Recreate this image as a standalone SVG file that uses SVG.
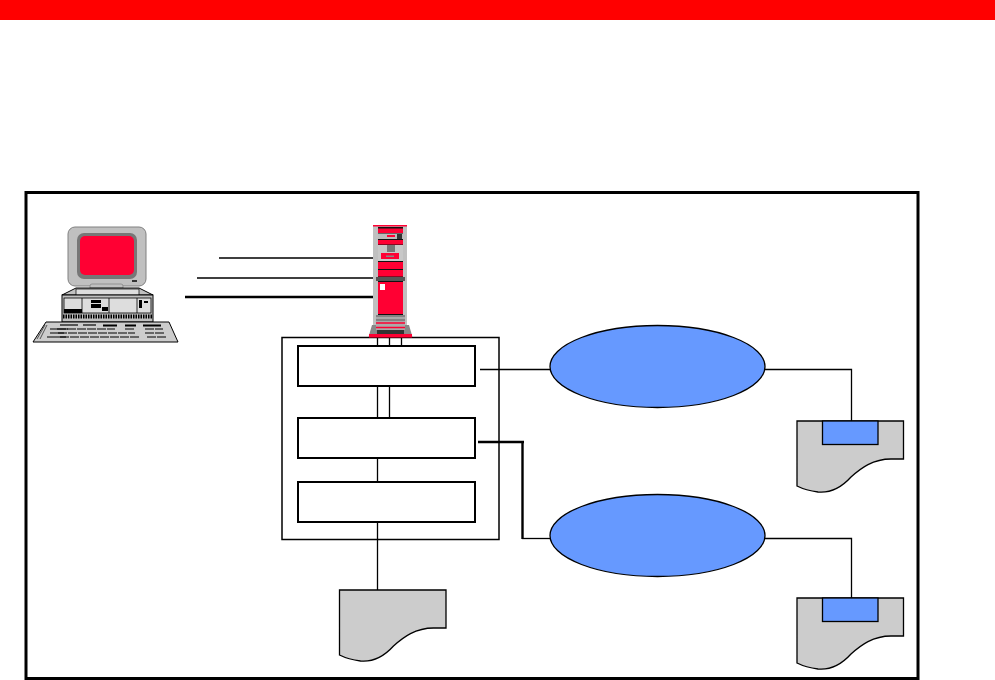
<svg xmlns="http://www.w3.org/2000/svg" width="995" height="680" viewBox="0 0 995 680">
<style>
.c{fill:none;stroke:#000;stroke-width:1.3}
.t{fill:none;stroke:#000;stroke-width:2.4}
.box{fill:#fff;stroke:#000;stroke-width:2}
.doc{fill:#ccc;stroke:#000;stroke-width:1.3}
.blue{fill:#6699ff;stroke:#000;stroke-width:1.3}
.k{fill:#000}
.r{fill:#ff0033}
.g{fill:#c0c0c0}
</style>
<defs>
<path id="d" d="M0,0H106.500V38H94C76,38 64,47 54,56C44,67 32,72 21,71C13,70 6,68 0,65Z"/>
</defs>
<rect width="995" height="20" fill="#ff0000"/>
<rect x="26" y="192.500" width="892" height="486" fill="#fff" stroke="#000" stroke-width="3"/>
<g id="frame"><rect x="282" y="337.500" width="217" height="202" fill="#fff" stroke="#000" stroke-width="1.500"/></g>
<g id="connectors">
<path class="c" d="M219,258H373M197,278H373"/>
<path class="t" d="M185,297H373"/>
<path class="c" d="M377.500,337V346M389.500,337V346M401.500,337V346M377.500,386V418M389.500,386V418M377.500,458V482M377.500,522V590"/>
<path class="c" d="M480,369.500H551M765,369.500H851.500V421M765,538.500H851.500V598"/>
<path class="t" d="M478,442H524M522.500,442V539"/>
<path class="c" d="M522,538.500H551"/>
</g>
<g id="computer">
<rect class="g" x="68" y="227" width="78" height="59" rx="7" stroke="#808080"/>
<rect x="77" y="233" width="60" height="46" rx="7" fill="#777"/>
<rect class="r" x="80" y="236" width="54" height="39" rx="5"/>
<rect x="132" y="280" width="5" height="2" fill="#333"/>
<rect class="g" x="90" y="284" width="33" height="7" rx="2" stroke="#808080" stroke-width=".7"/>
<path class="g" d="M62,295L76,288H139L153,295Z" stroke="#000" stroke-width="1"/>
<rect x="76" y="289" width="63" height="6" fill="#ddd" stroke="#000" stroke-width=".7"/>
<rect class="g" x="62" y="295" width="91" height="27" stroke="#000" stroke-width="1"/>
<rect x="64" y="298" width="87" height="15" fill="#ddd" stroke="#000" stroke-width=".8"/>
<path d="M82,298V313M109,298V313M137,298V313" stroke="#000" stroke-width=".8"/>
<rect class="k" x="91" y="300" width="10" height="3"/>
<rect class="k" x="91" y="304" width="10" height="4"/>
<rect class="k" x="102" y="307" width="6" height="4"/>
<rect class="k" x="139" y="300" width="3" height="8"/>
<rect class="k" x="144" y="301" width="4" height="2"/>
<rect class="k" x="64" y="309" width="18" height="4"/>
<path d="M63,316.500H152" stroke="#000" stroke-width="4" stroke-dasharray="1.500 1"/>
<path d="M46,322H169L178,342H33Z" fill="#ccc" stroke="#000" stroke-width="1"/>
<path d="M45,325L37,339M47,325L40,339" stroke="#333" stroke-width=".8"/>
<path d="M60,325H78M83,325H96" stroke="#555" stroke-width="2"/>
<path d="M103,325.500H117M125,325.500H136M143,325.500H161" stroke="#000" stroke-width="2"/>
<path d="M50,329H68M50,333H64M47,337H66" stroke="#000" stroke-width="1.200"/>
<path d="M57,329H115M58,333H135M60,337H140M125,329H135M145,329H163M145,333H165M147,337H167" stroke="#000" stroke-width="1.200" stroke-dasharray="9 1"/>
</g>
<g id="server">
<rect x="373" y="225" width="34" height="100" class="g"/>
<rect x="373" y="225" width="34" height="1.500" fill="#ff0033"/>
<rect x="378" y="227" width="25" height="88" fill="#111"/>
<rect class="r" x="378" y="228.500" width="25" height="4.500"/>
<rect x="378" y="233.500" width="25" height="5.500" fill="#bbb"/>
<rect class="r" x="387" y="235" width="8" height="2"/>
<rect x="397" y="234" width="5" height="5" fill="#333"/>
<rect class="r" x="378" y="240" width="25" height="4.500"/>
<rect x="378" y="245" width="25" height="16" fill="#c8c8c8"/>
<rect x="387" y="245" width="8" height="7" fill="#777"/>
<rect class="r" x="381" y="253" width="18" height="6"/>
<rect x="386" y="255.500" width="8" height="1.500" fill="#888"/>
<rect class="r" x="378" y="262" width="25" height="7"/>
<rect class="r" x="378" y="270" width="25" height="6.500"/>
<rect x="376" y="277" width="29" height="4" fill="#555"/>
<rect class="r" x="378" y="282" width="25" height="32"/>
<rect x="380" y="284" width="5" height="6" fill="#fff"/>
<rect x="376" y="315" width="29" height="15" fill="#aaa"/>
<path d="M376,316H405M376,320H405" stroke="#777" stroke-width="1.500"/>
<path d="M376,323H405M376,327.500H405" stroke="#ff0033" stroke-width="1.500"/>
<path d="M368.500,337L372,325H376V330H405V325H409L412.500,337Z" fill="#888"/>
<rect x="377" y="330" width="27" height="4" fill="#333"/>
<rect class="r" x="369" y="334" width="43" height="3.500"/>
</g>
<g id="box1"><rect class="box" x="298" y="346" width="177" height="40"/></g>
<g id="box2"><rect class="box" x="298" y="418" width="177" height="40"/></g>
<g id="box3"><rect class="box" x="298" y="482" width="177" height="40"/></g>
<g id="ellipse1"><ellipse class="blue" cx="657.500" cy="366.500" rx="107.500" ry="41"/></g>
<g id="ellipse2"><ellipse class="blue" cx="657.500" cy="535.500" rx="107.500" ry="41"/></g>
<g id="doc1"><use href="#d" class="doc" x="797" y="421"/><rect class="blue" x="822.500" y="421" width="55.500" height="23.500"/></g>
<g id="doc2"><use href="#d" class="doc" x="797" y="598"/><rect class="blue" x="822.500" y="598" width="55.500" height="23.500"/></g>
<g id="doc3"><use href="#d" class="doc" x="339.500" y="590"/></g>
</svg>
